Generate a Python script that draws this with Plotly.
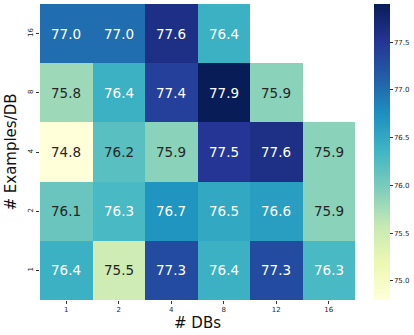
import plotly.graph_objects as go
import plotly.colors as pc

x_labels = ["1", "2", "4", "8", "12", "16"]
y_labels = ["16", "8", "4", "2", "1"]
values = [
    [77.0, 77.0, 77.6, 76.4, None, None],
    [75.8, 76.4, 77.4, 77.9, 75.9, None],
    [74.8, 76.2, 75.9, 77.5, 77.6, 75.9],
    [76.1, 76.3, 76.7, 76.5, 76.6, 75.9],
    [76.4, 75.5, 77.3, 76.4, 77.3, 76.3],
]
cbar_ticks = [75.0, 75.5, 76.0, 76.5, 77.0, 77.5]

flat = [v for row in values for v in row if v is not None]
zmin, zmax = min(flat), max(flat)
scale = pc.sequential.YlGnBu
colorscale = [[i / (len(scale) - 1), c] for i, c in enumerate(scale)]

xi = list(range(len(x_labels)))
yi = list(range(len(y_labels)))

fig = go.Figure(go.Heatmap(
    z=values, x=xi, y=yi,
    colorscale=colorscale, zmin=zmin, zmax=zmax,
    xgap=0, ygap=0, hoverongaps=False,
    colorbar=dict(
        x=1.06, xanchor="left", xpad=0, ypad=0,
        y=0, yanchor="bottom", len=1, lenmode="fraction",
        thickness=16, outlinewidth=0,
        tickvals=cbar_ticks, ticktext=[f"{t:.1f}" for t in cbar_ticks],
        ticks="outside", ticklen=3, tickwidth=1, tickcolor="#333",
        tickfont=dict(family="DejaVu Sans", size=7, color="#262626"),
    ),
))

annotations = []
for i, row in enumerate(values):
    for j, v in enumerate(row):
        if v is None:
            continue
        annotations.append(dict(
            x=xi[j], y=yi[i], xref="x", yref="y", text=f"{v:.1f}", showarrow=False,
            font=dict(family="DejaVu Sans", size=13.5,
                      color="#ffffff" if v > 76.25 else "#262626"),
        ))

fig.update_layout(
    width=414, height=335,
    margin=dict(l=40, r=59, t=4, b=35, autoexpand=False),
    paper_bgcolor="white", plot_bgcolor="white",
    annotations=annotations,
    xaxis=dict(
        range=[-0.5, len(x_labels) - 0.5], showgrid=False, zeroline=False, showline=False,
        tickvals=xi, ticktext=x_labels,
        ticks="outside", ticklen=3, tickwidth=1, tickcolor="#333",
        tickfont=dict(family="DejaVu Sans", size=7, color="#262626"),
        title=dict(text="# DBs", standoff=4,
                   font=dict(family="DejaVu Sans", size=15, color="#111")),
    ),
    yaxis=dict(
        range=[len(y_labels) - 0.5, -0.5], showgrid=False, zeroline=False,
        showline=False, tickvals=yi, ticktext=y_labels,
        ticks="outside", ticklen=3, tickwidth=1, tickcolor="#333",
        tickangle=-90,
        tickfont=dict(family="DejaVu Sans", size=7, color="#262626"),
        title=dict(text="# Examples/DB", standoff=6,
                   font=dict(family="DejaVu Sans", size=15, color="#111")),
    ),
)

fig.write_html(
    "out.html",
    config={"displayModeBar": False},
    post_script="document.body.style.margin='0';document.body.style.padding='0';",
)
